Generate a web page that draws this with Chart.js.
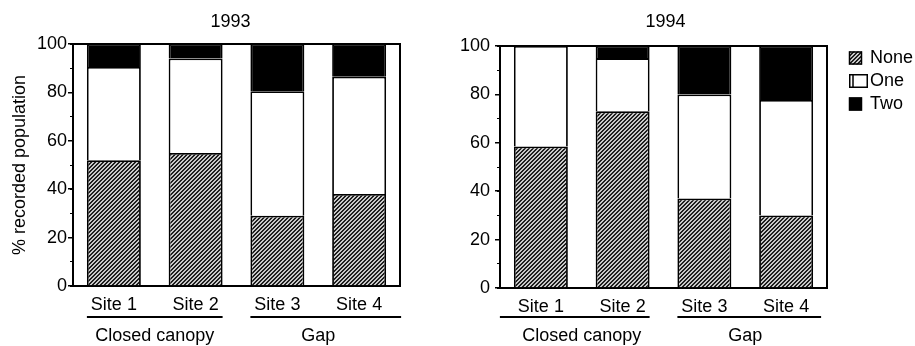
<!DOCTYPE html>
<html>
<head>
<meta charset="utf-8">
<title>Recorded population by site, 1993 and 1994</title>
<script src="https://cdn.jsdelivr.net/npm/chart.js@4.4.1/dist/chart.umd.min.js"></script>
<style>
  html, body { margin: 0; padding: 0; background: #fff; }
  #wrap { position: relative; width: 915px; height: 346px; overflow: hidden; }
  .panel { position: absolute; top: 0; height: 346px; }
</style>
</head>
<body>
<div id="wrap">
  <div class="panel" style="left:0;width:440px"><canvas id="c1993"></canvas></div>
  <div class="panel" style="left:440px;width:475px"><canvas id="c1994"></canvas></div>
</div>
<script>
// ---- data -------------------------------------------------------------
const sites = ['Site 1', 'Site 2', 'Site 3', 'Site 4'];
const groups = ['Closed canopy', 'Gap'];
const groupSites = [[0, 1], [2, 3]];
const seriesNames = ['None', 'One', 'Two'];

const none1993 = [52, 55, 29, 38];
const one1993  = [38.5, 39, 51.5, 48.5];
const two1993  = [9.5, 6, 19.5, 13.5];

const none1994 = [58.5, 73, 37, 30];
const one1994  = [41.5, 22, 43, 47.7];
const two1994  = [0, 5, 20, 22.3];

const yMajorStep = 20;
const yMinorStep = 10;
const yTitle = '% recorded population';

// ---- styling ----------------------------------------------------------
const FONT = '"Liberation Sans", Arial, Helvetica, sans-serif';
Chart.defaults.font.family = FONT;
Chart.defaults.font.size = 18;
Chart.defaults.color = '#000';

// fine diagonal hatching for the "None" segments
function makeHatch() {
  const n = 4;
  const c = document.createElement('canvas');
  c.width = n; c.height = n;
  const g = c.getContext('2d');
  const img = g.createImageData(n, n);
  for (let y = 0; y < n; y++) {
    for (let x = 0; x < n; x++) {
      const dark = ((x + y) % n) < 2;
      const v = dark ? 30 : 200;
      const i = (y * n + x) * 4;
      img.data[i] = v; img.data[i + 1] = v; img.data[i + 2] = v; img.data[i + 3] = 255;
    }
  }
  g.putImageData(img, 0, 0);
  return g.createPattern(c, 'repeat');
}
const hatchFill = makeHatch();
const fills = [hatchFill, '#ffffff', '#000000'];

// frame, panel title, site-group brackets and key
const panelText = {
  id: 'panelText',
  afterDraw(chart, args, o) {
    const { ctx, chartArea: a } = chart;
    ctx.save();
    ctx.strokeStyle = '#000';
    ctx.fillStyle = '#000';

    // top and right edges of the plot box
    ctx.lineWidth = 2;
    ctx.beginPath();
    ctx.moveTo(a.left, a.top);
    ctx.lineTo(a.right, a.top);
    ctx.lineTo(a.right, a.bottom);
    ctx.stroke();

    ctx.font = '18px ' + FONT;
    ctx.textAlign = 'center';
    ctx.textBaseline = 'middle';
    ctx.fillText(o.title, (a.left + a.right) / 2 + o.titleShift, o.titleY);

    // group brackets under the site labels
    const meta = chart.getDatasetMeta(0);
    groups.forEach((name, gi) => {
      const [s0, s1] = groupSites[gi];
      const b0 = meta.data[s0].getProps(['x', 'width'], true);
      const b1 = meta.data[s1].getProps(['x', 'width'], true);
      const L = b0.x - b0.width / 2;
      const R = b1.x + b1.width / 2;
      const [eL, eR] = o.reach[gi];
      ctx.lineWidth = 2;
      ctx.beginPath();
      ctx.moveTo(L - eL, o.lineY);
      ctx.lineTo(R + eR, o.lineY);
      ctx.stroke();
      ctx.fillText(name, (L + R) / 2, o.labelY);
    });

    // key
    if (o.key) {
      const k = o.key;
      ctx.textAlign = 'left';
      chart.data.datasets.forEach((ds, i) => {
        const cy = k.y + i * k.gap;
        ctx.lineWidth = 1.5;
        ctx.fillStyle = ds.backgroundColor;
        if (i === 1) {
          ctx.fillRect(k.x, cy - 7, 19, 14);
          ctx.strokeRect(k.x + 0.75, cy - 6.25, 17.5, 12.5);
          ctx.beginPath();
          ctx.moveTo(k.x + 4, cy - 6);
          ctx.lineTo(k.x + 4, cy + 6);
          ctx.stroke();
        } else {
          ctx.fillRect(k.x, cy - 6.5, 13, 13);
          ctx.strokeRect(k.x + 0.5, cy - 6, 12, 12);
        }
        ctx.fillStyle = '#000';
        ctx.fillText(ds.label, k.textX, cy + 0.5);
      });
    }
    ctx.restore();
  }
};

function buildChart(id, none, one, two, geo) {
  const values = [none, one, two];
  return new Chart(document.getElementById(id), {
    type: 'bar',
    data: {
      labels: sites,
      datasets: seriesNames.map((name, i) => ({
        label: name,
        data: values[i],
        backgroundColor: fills[i],
        borderColor: '#000',
        borderWidth: 1.8,
        borderSkipped: 'start',
        categoryPercentage: 1,
        barPercentage: 0.66
      }))
    },
    options: {
      responsive: true,
      maintainAspectRatio: false,
      animation: false,
      events: [],
      layout: { padding: { top: geo.top, right: geo.right, bottom: geo.bottom, left: 0 } },
      plugins: {
        legend: { display: false },
        tooltip: { enabled: false },
        title: { display: false },
        panelText: geo.text
      },
      scales: {
        x: {
          stacked: true,
          grid: { display: false, drawTicks: false },
          border: { display: true, color: '#000', width: 2 },
          ticks: { padding: geo.xPad, maxRotation: 0, font: { size: 18 } },
          afterFit: (s) => { s.height = geo.xH; }
        },
        y: {
          stacked: true,
          position: 'left',
          weight: 1,
          min: 0,
          max: 100,
          ticks: { stepSize: yMajorStep, padding: geo.yPad, font: { size: 18 } },
          grid: { drawOnChartArea: false, drawTicks: true, tickLength: 5, color: '#000', lineWidth: 1.5 },
          border: { display: true, color: '#000', width: 2 },
          title: {
            display: !!geo.yTitle,
            text: geo.yTitle || '',
            font: { size: 18 },
            padding: { top: 9, bottom: 0 }
          },
          afterFit: (s) => { s.width = geo.yW; }
        },
        yMinor: {
          position: 'left',
          weight: 0,
          min: 0,
          max: 100,
          ticks: { stepSize: yMinorStep, display: false },
          grid: { drawOnChartArea: false, drawTicks: true, tickLength: 3, color: '#000', lineWidth: 1 },
          border: { display: false },
          afterFit: (s) => { s.width = 0; }
        }
      }
    },
    plugins: [panelText]
  });
}

buildChart('c1993', none1993, one1993, two1993, {
  top: 44, right: 40, bottom: 30, xH: 30, xPad: 8, yW: 73, yPad: 1, yTitle: yTitle,
  text: { title: '1993', titleShift: -6, titleY: 22, lineY: 317, labelY: 336, reach: [[0, 0], [0, 15]] }
});

buildChart('c1994', none1994, one1994, two1994, {
  top: 46, right: 88, bottom: 28, xH: 30, xPad: 8, yW: 60, yPad: 5, yTitle: null,
  text: {
    title: '1994', titleShift: 2, titleY: 22, lineY: 317, labelY: 336, reach: [[14, 0], [0, 8]],
    key: { x: 409, textX: 430, y: 58, gap: 23 }
  }
});
</script>
</body>
</html>
